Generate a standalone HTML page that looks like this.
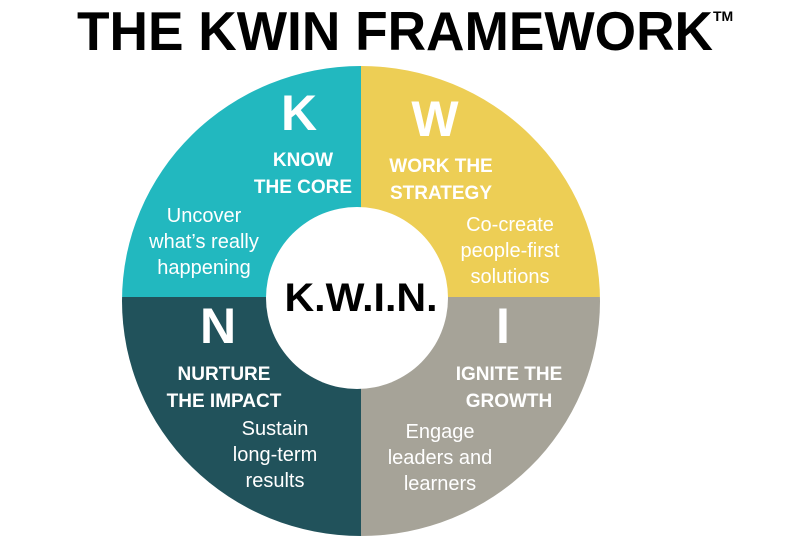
<!DOCTYPE html>
<html><head><meta charset="utf-8"><style>
html,body{margin:0;padding:0;background:#fff;width:797px;height:542px;overflow:hidden}
svg{display:block}
text{font-family:"Liberation Sans",sans-serif}
</style></head><body>
<svg width="797" height="542" viewBox="0 0 797 542">
<text x="395" y="50" text-anchor="middle" font-size="55" font-weight="bold" fill="#000" textLength="636" lengthAdjust="spacingAndGlyphs">THE KWIN FRAMEWORK</text>
<text x="713" y="21" font-size="14" font-weight="bold" fill="#000">TM</text>
<clipPath id="c"><ellipse cx="361" cy="301" rx="239" ry="235"/></clipPath>
<g clip-path="url(#c)">
<rect x="100" y="60" width="261" height="237" fill="#22B8BF"/>
<rect x="361" y="60" width="260" height="237" fill="#EDCE55"/>
<rect x="100" y="297" width="261" height="250" fill="#21525B"/>
<rect x="361" y="297" width="260" height="250" fill="#A6A398"/>
</g>
<circle cx="357" cy="298" r="91" fill="#fff"/>
<g fill="#fff" text-anchor="middle">
<g font-size="50" font-weight="bold">
<text x="299" y="130">K</text>
<text x="435" y="136">W</text>
<text x="218" y="343">N</text>
<text x="503" y="343">I</text>
</g>
<g font-size="19" font-weight="bold">
<text x="303" y="166">KNOW</text><text x="303" y="193">THE CORE</text>
<text x="441" y="172">WORK THE</text><text x="441" y="199">STRATEGY</text>
<text x="224" y="380">NURTURE</text><text x="224" y="407">THE IMPACT</text>
<text x="509" y="380">IGNITE THE</text><text x="509" y="407">GROWTH</text>
</g>
<g font-size="20">
<text x="204" y="222">Uncover</text><text x="204" y="248">what’s really</text><text x="204" y="274">happening</text>
<text x="510" y="231">Co-create</text><text x="510" y="257">people-first</text><text x="510" y="283">solutions</text>
<text x="275" y="435">Sustain</text><text x="275" y="461">long-term</text><text x="275" y="487">results</text>
<text x="440" y="438">Engage</text><text x="440" y="464">leaders and</text><text x="440" y="490">learners</text>
</g>
</g>
<text x="361" y="311" text-anchor="middle" font-size="40" font-weight="bold" fill="#000" textLength="153" lengthAdjust="spacingAndGlyphs">K.W.I.N.</text>
</svg>
</body></html>
